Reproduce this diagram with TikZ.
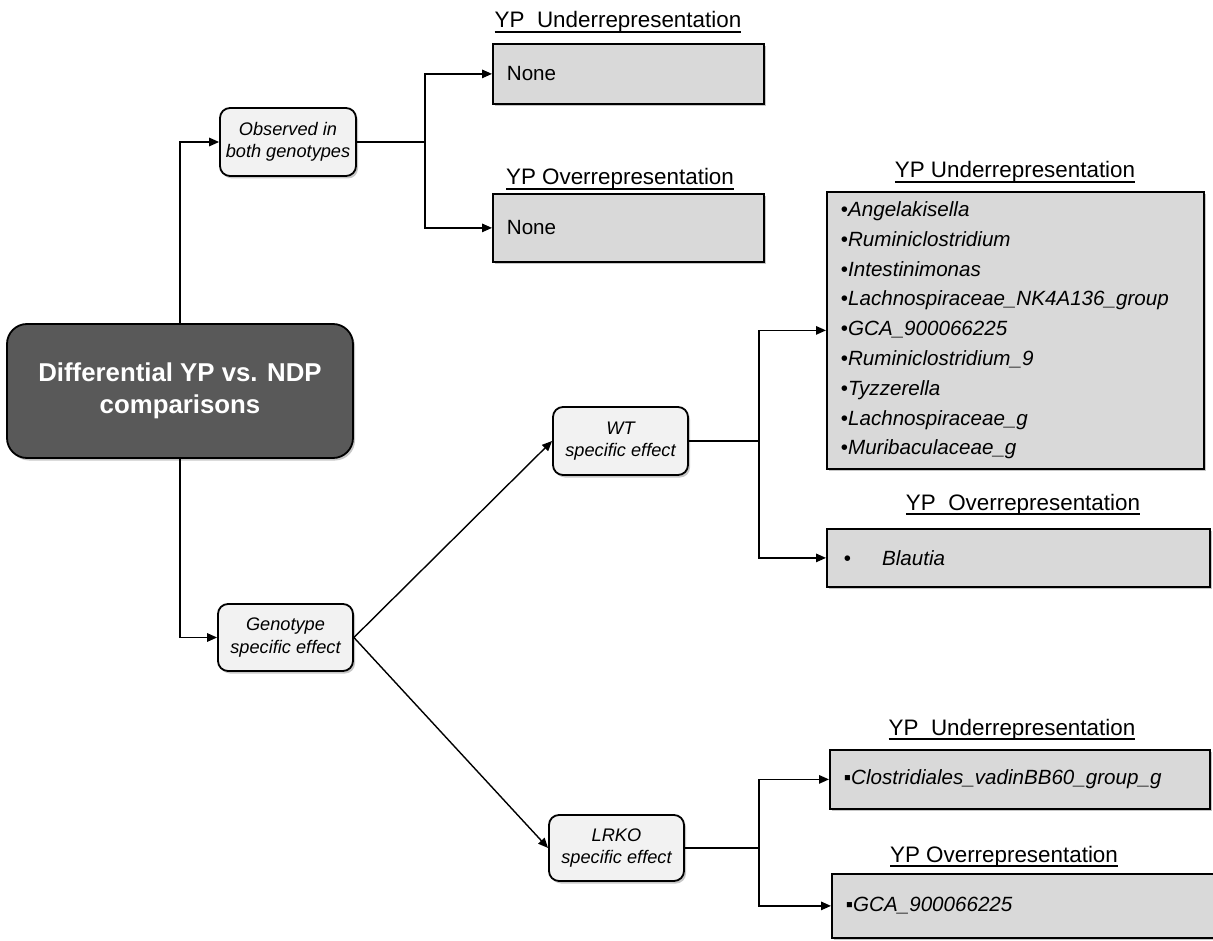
\documentclass[tikz,border=0pt]{standalone}
\usepackage{fontspec}
\setmainfont{Liberation Sans}
\usetikzlibrary{arrows.meta,shadows}
\definecolor{hubfill}{HTML}{595959}
\definecolor{stepfill}{HTML}{F2F2F2}
\definecolor{listfill}{HTML}{D9D9D9}
% heading text with a firm underline
\newcommand{\hdline}[1]{\setbox0\hbox{#1}\rlap{\raisebox{-5pt}{\rule{\wd0}{1.6pt}}}\box0}
\tikzset{
  softshadow/.style={drop shadow={shadow xshift=2pt,shadow yshift=-2.5pt,fill=black,opacity=0.22}},
  hub/.style={draw=black, line width=1.8pt, fill=hubfill, rounded corners=20pt,
    text=white, align=center, inner sep=0pt, softshadow,
    font=\fontsize{25.8}{32}\selectfont\bfseries},
  stepbox/.style={draw=black, line width=1.8pt, fill=stepfill, rounded corners=10pt,
    align=center, inner sep=0pt, softshadow,
    font=\fontsize{18.2}{22.5}\selectfont\itshape},
  listbox/.style={draw=black, line width=1.8pt, fill=listfill, anchor=north west,
    align=left, inner xsep=14pt, inner ysep=0pt, softshadow,
    font=\fontsize{20.6}{29.8}\selectfont},
  head/.style={anchor=base, inner sep=0pt, font=\fontsize{22.4}{26}\selectfont},
  link/.style={line width=1.4pt, -{Triangle[length=10pt,width=8.5pt]}},
  trunk/.style={line width=2.4pt},
}
\begin{document}
\begin{tikzpicture}[x=1pt,y=-1pt]
\useasboundingbox (0,0) rectangle (1213,941);

% root and first-level branches
\node[hub, minimum width=346pt, minimum height=134pt] (root) at (180,391)
  {Differential YP vs. NDP\\comparisons};
\node[stepbox, minimum width=136pt, minimum height=68pt] (obs) at (288,142)
  {Observed in\\both genotypes};
\node[stepbox, minimum width=135pt, minimum height=67pt] (gen) at (285.5,637.5)
  {Genotype\\specific effect};
\node[stepbox, minimum width=135pt, minimum height=68pt] (wt) at (620.5,441)
  {WT\\specific effect};
\node[stepbox, minimum width=135pt, minimum height=66pt] (lrko) at (616.5,848)
  {LRKO\\specific effect};

% result boxes for effects seen in both genotypes
\node[head] (h1) at (618,28) {\hdline{YP\ \ Underrepresentation}};
\node[listbox, minimum width=271pt, minimum height=60pt, text width=243pt] (none1) at (492,43) {None};
\node[head] (h2) at (620,185) {\hdline{YP Overrepresentation}};
\node[listbox, minimum width=271pt, minimum height=68pt, text width=243pt] (none2) at (492,193) {None};

% WT-specific results
\node[head] (h3) at (1015,178) {\hdline{YP Underrepresentation}};
\node[listbox, minimum width=377pt, minimum height=277pt, text width=349pt] (wtunder) at (826,191)
  {•\textit{Angelakisella}\\
   •\textit{Ruminiclostridium}\\
   •\textit{Intestinimonas}\\
   •\textit{Lachnospiraceae\_NK4A136\_group}\\
   •\textit{GCA\_900066225}\\
   •\textit{Ruminiclostridium\_9}\\
   •\textit{Tyzzerella}\\
   •\textit{Lachnospiraceae\_g}\\
   •\textit{Muribaculaceae\_g}};
\node[head] (h4) at (1023,510) {\hdline{YP\ \ Overrepresentation}};
\node[listbox, minimum width=383pt, minimum height=58pt, text width=349pt, inner xsep=17pt] (wtover) at (826,528)
  {•\hspace{31pt}\textit{Blautia}};

% LRKO-specific results
\node[head] (h5) at (1012,735) {\hdline{YP\ \ Underrepresentation}};
\node[listbox, minimum width=380pt, minimum height=59pt, text width=352pt] (kounder) at (829,749)
  {▪\textit{Clostridiales\_vadinBB60\_group\_g}};
\node[head] (h6) at (1004,862) {\hdline{YP Overrepresentation}};
\node[listbox, minimum width=385pt, minimum height=64pt, text width=357pt] (koover) at (831,873)
  {▪\textit{GCA\_900066225}};

% connectors
\draw[link] (root.north) |- (obs.west);
\draw[link] (root.south) |- (gen.west);

\coordinate (j1) at (425,142);
\draw[trunk] (obs.east) -- (j1);
\draw[link] (j1) |- (none1.west);
\draw[link] (j1) |- (none2.west);

\draw[link] (gen.east) -- (wt.west);
\draw[link] (gen.east) -- (lrko.west);

\coordinate (j2) at (759,441);
\draw[link, -] (wt.east) -- (j2);
\draw[link] (j2) |- (wtunder.west);
\draw[link] (j2) |- (wtover.west);

\coordinate (j3) at (759,848);
\draw[trunk] (lrko.east) -- (j3);
\draw[link] (j3) |- (kounder.west);
\draw[link] (j3) |- (koover.west);
\end{tikzpicture}
\end{document}
